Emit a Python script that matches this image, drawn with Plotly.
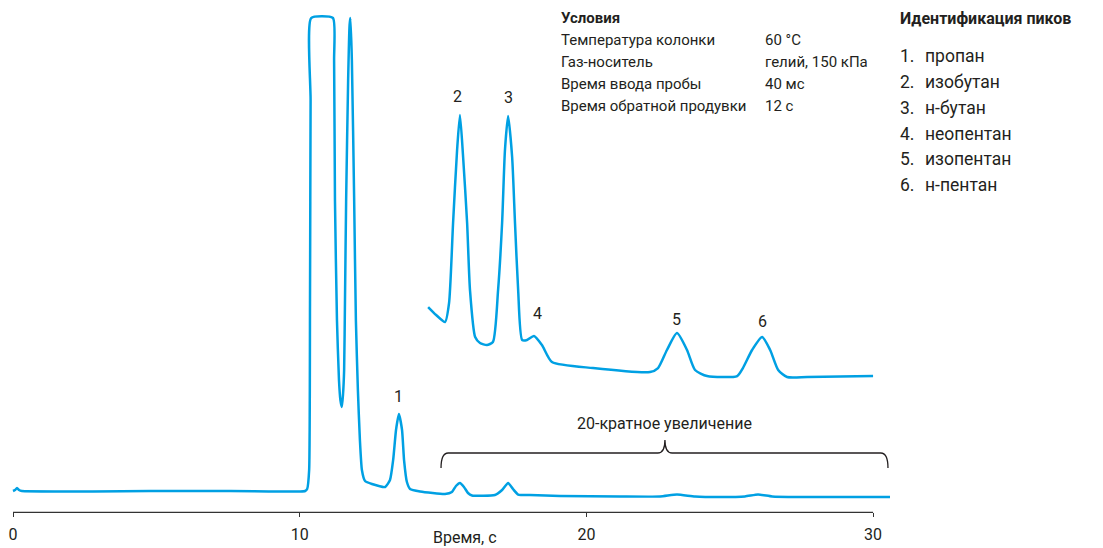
import plotly.graph_objects as go

# Main chromatogram (time, s ; signal, arb. units, clipped at 100)
main_t = [0.0, 0.07, 0.14, 0.21, 0.31, 4.78, 7.57, 10.01, 10.19, 10.26, 10.33, 10.36, 10.38, 10.40,
          11.16, 11.20, 11.23, 11.30, 11.37, 11.42, 11.47, 11.51, 11.55, 11.58, 11.62, 11.69, 11.74, 11.77,
          11.82, 11.90, 11.96, 12.03, 12.10, 12.17, 12.28, 12.52, 12.98, 13.15, 13.26, 13.36, 13.46,
          13.57, 13.64, 13.74, 13.85, 14.20, 15.07, 15.31, 15.45, 15.59, 15.73, 15.87, 16.01, 16.81,
          17.06, 17.27, 17.44, 17.62, 18.03, 19.08, 21.17, 22.57, 23.16, 23.79, 24.66, 25.53, 25.99,
          26.48, 27.45, 30.59]
main_y = [0.0, 0.21, 0.63, 0.21, 0.0, 0.0, 0.0, -0.1, 0.0, 0.42, 4.44, 40.38, 82.66, 100.0,
          100.0, 91.12, 61.52, 36.15, 23.47, 19.24, 17.76, 20.30, 25.58, 40.38, 61.52, 86.89, 98.52, 100.0,
          91.12, 61.52, 36.15, 21.35, 10.78, 4.44, 2.11, 1.48, 0.85, 2.33, 6.55, 12.90, 16.28,
          12.90, 6.55, 1.90, 0.42, -0.1, -0.63, -0.21, 1.06, 1.69, 0.85, -0.42, -0.95, -0.85,
          0.21, 1.69, 0.42, -0.74, -0.85, -1.06, -1.16, -1.16, -0.74, -1.16, -1.27, -1.16, -0.74,
          -1.16, -1.27, -1.27]

# 20x magnified section (offset)
zoom_t = [14.48, 14.76, 15.07, 15.21, 15.35, 15.49, 15.59, 15.70, 15.84, 15.94, 16.12, 16.29, 16.53,
          16.74, 16.92, 17.06, 17.16, 17.27, 17.41, 17.51, 17.62, 17.76, 17.93, 18.17, 18.45, 18.80,
          20.23, 22.22, 22.50, 22.81, 23.16, 23.51, 23.79, 24.21, 25.26, 25.46, 25.78, 26.13, 26.41,
          26.69, 27.00, 27.70, 30.00]
zoom_y = [38.90, 37.21, 35.73, 39.75, 56.66, 72.09, 79.49, 70.61, 56.66, 42.49, 32.56, 31.29, 30.87,
          31.50, 42.49, 56.66, 72.09, 79.28, 70.61, 56.66, 42.49, 31.92, 31.92, 32.77, 30.87, 27.27,
          26.00, 25.16, 26.00, 29.81, 33.40, 29.81, 25.58, 24.31, 24.31, 26.00, 29.81, 32.56, 29.81,
          25.58, 24.10, 24.10, 24.31]

peak_labels = ["1", "2", "3", "4", "5", "6"]
peak_label_t = [13.45, 15.52, 17.27, 18.30, 23.16, 26.13]
peak_label_y = [19.9, 83.5, 83.2, 37.6, 36.2, 35.9]

x_ticks = [0, 10, 20, 30]
x_title = "Время, с"

cond_title = "Условия"
cond_names = ["Температура колонки", "Газ-носитель", "Время ввода пробы", "Время обратной продувки"]
cond_values = ["60 °C", "гелий, 150 кПа", "40 мс", "12 с"]

id_title = "Идентификация пиков"
id_names = ["пропан", "изобутан", "н-бутан", "неопентан", "изопентан", "н-пентан"]

bracket_text = "20-кратное увеличение"
bracket_t0, bracket_tc, bracket_t1 = 14.93, 22.74, 30.52
bracket_y_line, bracket_y_end, bracket_y_top = 8.03, 4.86, 10.78

BLUE = "rgb(0,160,227)"
TXT = "#231f20"
FONT = "Roboto"

fig = go.Figure()
fig.add_trace(go.Scatter(x=main_t, y=main_y, mode="lines",
                         line=dict(color=BLUE, width=2.5, shape="spline", smoothing=0.5),
                         hoverinfo="skip", showlegend=False))
fig.add_trace(go.Scatter(x=zoom_t, y=zoom_y, mode="lines",
                         line=dict(color=BLUE, width=2.5, shape="spline", smoothing=0.6),
                         hoverinfo="skip", showlegend=False))

ann = []
for lab, t, y in zip(peak_labels, peak_label_t, peak_label_y):
    ann.append(dict(x=t, y=y, xref="x", yref="y", text=lab, showarrow=False,
                    font=dict(size=16, color=TXT, family=FONT), yanchor="middle"))

# bracket
d = 0.25
path = (f"M {bracket_t0},{bracket_y_end} Q {bracket_t0},{bracket_y_line} {bracket_t0+d},{bracket_y_line} "
        f"L {bracket_tc-d},{bracket_y_line} Q {bracket_tc},{bracket_y_line} {bracket_tc},{bracket_y_top} "
        f"Q {bracket_tc},{bracket_y_line} {bracket_tc+d},{bracket_y_line} "
        f"L {bracket_t1-d},{bracket_y_line} Q {bracket_t1},{bracket_y_line} {bracket_t1},{bracket_y_end}")
fig.add_shape(type="path", path=path, xref="x", yref="y", line=dict(color=TXT, width=1.3))
ann.append(dict(x=bracket_tc, y=14.2, xref="x", yref="y", text=bracket_text,
                showarrow=False, yanchor="middle", font=dict(size=16, color=TXT, family=FONT)))

# x axis line
fig.add_shape(type="line", x0=x_ticks[0], x1=x_ticks[-1], y0=-4.5, y1=-4.5, xref="x", yref="y",
              line=dict(color="#333", width=1.3))
ann.append(dict(x=15.75, y=-9.9, xref="x", yref="y", text=x_title, showarrow=False,
                yanchor="middle", font=dict(size=16, color=TXT, family=FONT)))

# conditions block
ann.append(dict(x=19.05, y=100.0, xref="x", yref="y", text=f"<b>{cond_title}</b>", showarrow=False,
                xanchor="left", yanchor="middle", font=dict(size=15, color=TXT, family=FONT)))
for i, (n, v) in enumerate(zip(cond_names, cond_values)):
    yy = 95.3 - i * 4.65
    ann.append(dict(x=19.05, y=yy, xref="x", yref="y", text=n, showarrow=False, xanchor="left",
                    yanchor="middle", font=dict(size=15, color=TXT, family=FONT)))
    ann.append(dict(x=26.17, y=yy, xref="x", yref="y", text=v, showarrow=False, xanchor="left",
                    yanchor="middle", font=dict(size=15, color=TXT, family=FONT)))

# peak identification
ann.append(dict(x=30.86, y=100.0, xref="x", yref="y", text=f"<b>{id_title}</b>", showarrow=False,
                xanchor="left", yanchor="middle", font=dict(size=16, color=TXT, family=FONT)))
for i, n in enumerate(id_names):
    yy = 91.9 - i * 5.45
    ann.append(dict(x=30.86, y=yy, xref="x", yref="y", text=f"{i+1}.", showarrow=False, xanchor="left",
                    yanchor="middle", font=dict(size=17.5, color=TXT, family=FONT)))
    ann.append(dict(x=31.73, y=yy, xref="x", yref="y", text=n, showarrow=False, xanchor="left",
                    yanchor="middle", font=dict(size=17.5, color=TXT, family=FONT)))

fig.update_layout(
    width=1103, height=548, margin=dict(l=0, r=0, t=0, b=0),
    paper_bgcolor="white", plot_bgcolor="white",
    annotations=ann,
    xaxis=dict(range=[-0.4535, 38.02], tickvals=x_ticks, ticktext=[str(v) for v in x_ticks],
               ticks="outside", ticklen=4, tickcolor="#333", tickwidth=1.3, showgrid=False,
               zeroline=False, showline=False, anchor="free", position=0.0648,
               ticklabelstandoff=3,
               tickfont=dict(size=16, color=TXT, family=FONT)),
    yaxis=dict(range=[-12.05, 103.81], visible=False, showgrid=False, zeroline=False),
)
fig.write_html("out.html")
